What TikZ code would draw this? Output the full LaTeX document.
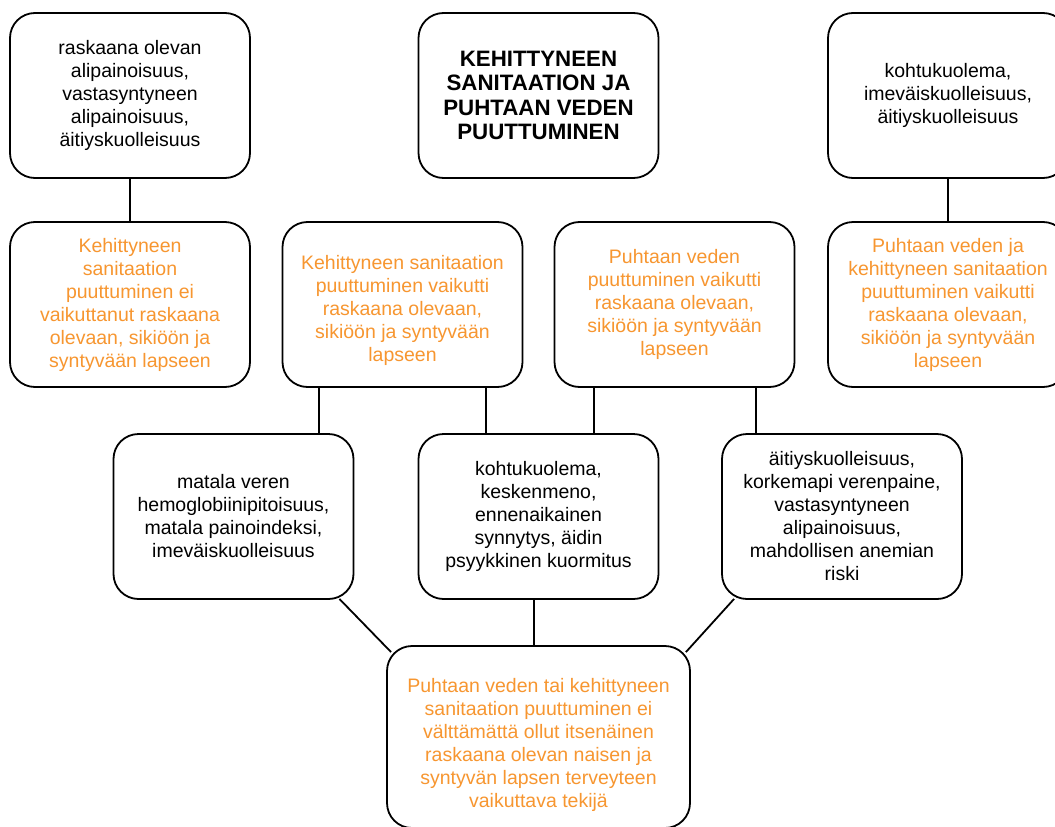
\documentclass[tikz,border=0pt]{standalone}
\usepackage{fontspec}
\setmainfont{Liberation Sans}
\definecolor{orng}{RGB}{247,150,48}
\begin{document}
\begin{tikzpicture}[x=1pt,y=-1pt,
  box/.style={draw=black, line width=1.8pt, rounded corners=25pt, align=center,
    font=\fontsize{19.5}{23}\selectfont, inner sep=0pt},
  bw/.style={minimum width=240pt, minimum height=165pt},
  note/.style={text=orng},
  txt/.style={align=center, font=\fontsize{19.5}{23}\selectfont, inner sep=0pt},
  link/.style={line width=1.8pt, draw=black}]
\useasboundingbox (0,0) rectangle (1055,827);
\clip (0,0) rectangle (1055,827);
\fill[white] (0,0) rectangle (1055,827);
% top row
\node[box,bw] (n1) at (130,95.5) {raskaana olevan\\alipainoisuus,\\vastasyntyneen\\alipainoisuus,\\äitiyskuolleisuus};
\node[box,bw,font=\fontsize{22.3}{24.5}\selectfont\bfseries] (n2) at (538.5,95.5) {KEHITTYNEEN\\SANITAATION JA\\PUHTAAN VEDEN\\PUUTTUMINEN};
\node[box,bw] (n3) at (948,95.5) {kohtukuolema,\\imeväiskuolleisuus,\\äitiyskuolleisuus};
% second row
\node[box,bw,note] (a) at (130,304.5) {Kehittyneen\\sanitaation\\puuttuminen ei\\vaikuttanut raskaana\\olevaan, sikiöön ja\\syntyvään lapseen};
\node[box,bw] (b) at (402.5,304.5) {};
\node[txt,note] (bt) at (402.5,310) {Kehittyneen sanitaation\\puuttuminen vaikutti\\raskaana olevaan,\\sikiöön ja syntyvään\\lapseen};
\node[box,bw,note] (c) at (674.5,304.5) {Puhtaan veden\\puuttuminen vaikutti\\raskaana olevaan,\\sikiöön ja syntyvään\\lapseen};
\node[box,bw,note] (d) at (948,304.5) {Puhtaan veden ja\\kehittyneen sanitaation\\puuttuminen vaikutti\\raskaana olevaan,\\sikiöön ja syntyvään\\lapseen};
% third row
\node[box,bw] (e) at (233.5,516.5) {matala veren\\hemoglobiinipitoisuus,\\matala painoindeksi,\\imeväiskuolleisuus};
\node[box,bw] (f) at (538.5,516.5) {kohtukuolema,\\keskenmeno,\\ennenaikainen\\synnytys, äidin\\psyykkinen kuormitus};
\node[box,bw] (g) at (842,516.5) {äitiyskuolleisuus,\\korkemapi verenpaine,\\vastasyntyneen\\alipainoisuus,\\mahdollisen anemian\\riski};
% bottom
\node[box,minimum width=303pt,minimum height=182pt] (h) at (538.5,737) {};
\node[txt,note] (ht) at (538.5,745) {Puhtaan veden tai kehittyneen\\sanitaation puuttuminen ei\\välttämättä ollut itsenäinen\\raskaana olevan naisen ja\\syntyvän lapsen terveyteen\\vaikuttava tekijä};
% connectors
\draw[link] (n1.south) -- (a.north);
\draw[link] (n3.south) -- (d.north);
\draw[link] ([xshift=-83.5pt]b.south) -- ([xshift=-83.5pt]b.south |- e.north);
\draw[link] ([xshift=83.5pt]b.south) -- ([xshift=83.5pt]b.south |- f.north);
\draw[link] ([xshift=-80.5pt]c.south) -- ([xshift=-80.5pt]c.south |- f.north);
\draw[link] ([xshift=81.5pt]c.south) -- ([xshift=81.5pt]c.south |- g.north);
\draw[link] ([xshift=-4.5pt]f.south) -- ([xshift=-4.5pt]f.south |- h.north);
\draw[link] ([xshift=-15pt,yshift=1pt]e.south east) -- ([xshift=5pt,yshift=-7pt]h.north west);
\draw[link] ([xshift=13pt,yshift=1pt]g.south west) -- ([xshift=-5pt,yshift=-7pt]h.north east);
\end{tikzpicture}
\end{document}
